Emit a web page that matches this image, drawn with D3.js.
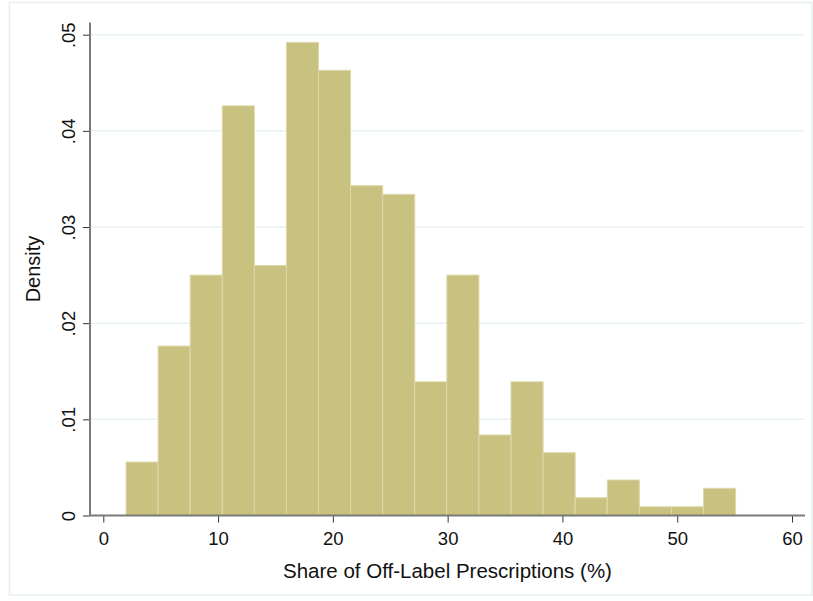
<!DOCTYPE html>
<html>
<head>
<meta charset="utf-8">
<script src="https://cdn.jsdelivr.net/npm/d3@7"></script>
<style>
  body { margin: 0; background: #fff; }
  svg { font-family: "Liberation Sans", Arial, sans-serif; }
</style>
</head>
<body>
<div id="chart"></div>
<script>
// histogram bins (share of off-label prescriptions, %)
var binStart = 1.98;
var binWidth = 2.795;
var densities = [0.00556, 0.01762, 0.0250, 0.0426, 0.0260, 0.0492, 0.0463, 0.0343, 0.0334,
                 0.0139, 0.0250, 0.00837, 0.0139, 0.00653, 0.00185, 0.00369, 0.00091, 0.00091, 0.00283];
var xTicks = [0, 10, 20, 30, 40, 50, 60];
var yTicks = [0, 0.01, 0.02, 0.03, 0.04, 0.05];
var yTickLabels = ["0", ".01", ".02", ".03", ".04", ".05"];

var width = 813, height = 601;
var svg = d3.select("#chart").append("svg")
    .attr("width", width)
    .attr("height", height);

// outer frame
svg.append("rect")
    .attr("x", 9.5).attr("y", 2.5)
    .attr("width", 812 - 9.5).attr("height", 595 - 2.5)
    .attr("fill", "#fff")
    .attr("stroke", "#e6eff0")
    .attr("stroke-width", 1.5);

var x = d3.scaleLinear().domain([0, 60]).range([103.3, 792]);
var y = d3.scaleLinear().domain([0, 0.05]).range([515.5, 34.7]);
var plotLeft = 90, plotRight = 805, plotTop = 22.5;

// grid
svg.append("g")
    .selectAll("line")
    .data(yTicks.slice(1))
    .enter().append("line")
    .attr("x1", plotLeft).attr("x2", plotRight)
    .attr("y1", function (d) { return y(d); })
    .attr("y2", function (d) { return y(d); })
    .attr("stroke", "#e8f1f3")
    .attr("stroke-width", 1.5);

var bins = densities.map(function (d, i) {
    return { x0: binStart + i * binWidth, x1: binStart + (i + 1) * binWidth, density: d };
});

svg.append("g")
    .selectAll("rect")
    .data(bins)
    .enter().append("rect")
    .attr("x", function (d) { return x(d.x0); })
    .attr("width", function (d) { return x(d.x1) - x(d.x0); })
    .attr("y", function (d) { return y(d.density); })
    .attr("height", function (d) { return y(0) - y(d.density); })
    .attr("fill", "#c8c17f")
    .attr("stroke", "#ddd9ab")
    .attr("stroke-width", 1);

// x axis
var xAxis = svg.append("g")
    .attr("transform", "translate(0," + y(0) + ")")
    .call(d3.axisBottom(x).tickValues(xTicks).tickSize(7).tickPadding(9).tickFormat(d3.format("d")));
xAxis.select(".domain").remove();
xAxis.append("line")
    .attr("x1", plotLeft).attr("x2", plotRight)
    .attr("stroke", "#7a7a7a").attr("stroke-width", 2);
xAxis.selectAll(".tick line").attr("stroke", "#333");
xAxis.selectAll(".tick text")
    .attr("fill", "#111")
    .style("font-size", "18.5px");

// y axis
var yAxis = svg.append("g")
    .attr("transform", "translate(" + plotLeft + ",0)")
    .call(d3.axisLeft(y).tickValues(yTicks).tickSize(7).tickPadding(4)
        .tickFormat(function (d, i) { return yTickLabels[i]; }));
yAxis.select(".domain").remove();
yAxis.append("line")
    .attr("y1", plotTop).attr("y2", y(0))
    .attr("stroke", "#7a7a7a").attr("stroke-width", 2);
yAxis.selectAll(".tick line").attr("stroke", "#333");
yAxis.selectAll(".tick text")
    .attr("fill", "#111")
    .style("font-size", "18.5px")
    .attr("transform", "rotate(-90)")
    .attr("x", 0)
    .attr("y", -15)
    .attr("dy", "0")
    .attr("text-anchor", "middle");

// axis titles
svg.append("text")
    .attr("x", (plotLeft + plotRight) / 2)
    .attr("y", 578)
    .attr("text-anchor", "middle")
    .attr("fill", "#111")
    .style("font-size", "20.5px")
    .text("Share of Off-Label Prescriptions (%)");

svg.append("text")
    .attr("transform", "translate(40," + ((plotTop + y(0)) / 2) + ") rotate(-90)")
    .attr("text-anchor", "middle")
    .attr("fill", "#111")
    .style("font-size", "20px")
    .text("Density");
</script>
</body>
</html>
